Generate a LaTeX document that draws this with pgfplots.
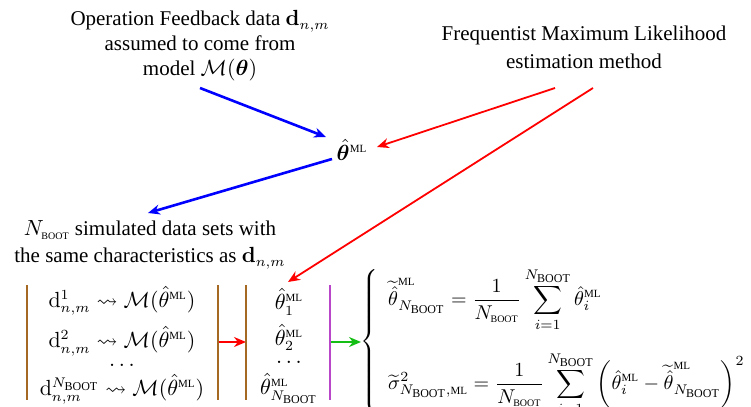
\documentclass[border=0pt]{standalone}
\usepackage{amsmath,amssymb,bm}
\usepackage[no-math]{fontspec}
\setmainfont{Liberation Serif}
\usepackage{pgfplots}
\pgfplotsset{compat=1.18}
\usetikzlibrary{arrows.meta}
\newcommand\ML{\mbox{\fontsize{5.5}{6}\selectfont ML}}
\newcommand\BOOTs{\mbox{\fontsize{5}{5}\selectfont BOOT}}
\newcommand\BOOTm{\mbox{\fontsize{6}{7}\selectfont BOOT}}
\definecolor{brn}{RGB}{165,105,35}
\definecolor{prp}{RGB}{185,70,200}
\definecolor{grn}{RGB}{20,190,20}
\begin{document}
\begin{tikzpicture}
\begin{axis}[
  at={(0,0)}, anchor=south west,
  scale only axis, width=375.5pt, height=203.5pt,
  xmin=0, xmax=751, ymin=0, ymax=407, y dir=reverse,
  hide axis, clip=false,
]
\addplot[draw=none] coordinates {(0,0) (751,407)};
% arrows
\addplot[blue, line width=1.3pt, -{Stealth[length=6pt,width=5pt]}] coordinates {(200,88) (326,137)};
\addplot[red, line width=0.9pt, -{Stealth[length=6pt,width=5pt]}] coordinates {(555,88) (377,147)};
\addplot[blue, line width=1.3pt, -{Stealth[length=6pt,width=5pt]}] coordinates {(332,159) (148,213)};
\addplot[red, line width=0.9pt, -{Stealth[length=6pt,width=5pt]}] coordinates {(593,88) (288,282)};
\addplot[red, line width=1.3pt, -{Stealth[length=6pt,width=5pt]}] coordinates {(218,342) (246,342)};
\addplot[grn, line width=1.3pt, -{Stealth[length=6pt,width=5pt]}] coordinates {(331,342) (361,342)};
% vertical rules
\addplot[brn, line width=1pt] coordinates {(27,285) (27,400)};
\addplot[brn, line width=1pt] coordinates {(218,285) (218,400)};
\addplot[brn, line width=1pt] coordinates {(246,285) (246,400)};
\addplot[prp, line width=1pt] coordinates {(330,285) (330,400)};
% texts
\node[align=center, font=\fontsize{10.5}{12.5}\selectfont] at (axis cs:200,46)
  {Operation Feedback data $\mathbf{d}_{n,m}$\\ assumed to come from\\ model $\mathcal{M}(\bm{\theta})$};
\node[align=center, font=\fontsize{10.5}{14}\selectfont] at (axis cs:584,47)
  {Frequentist Maximum Likelihood\\ estimation method};
\node[font=\fontsize{10.5}{12.5}\selectfont] at (axis cs:352,150) {$\hat{\bm{\theta}}^{\ML}$};
\node[align=center, font=\fontsize{10.5}{13.5}\selectfont] at (axis cs:150,245)
  {$N_{\BOOTs}$ simulated data sets with\\ the same characteristics as $\mathbf{d}_{n,m}$};
\node[font=\fontsize{10.5}{12.5}\selectfont] at (axis cs:122,345)
  {$\begin{array}{c}
   \mathrm{d}^{1}_{n,m}\leadsto\mathcal{M}(\hat\theta^{\ML})\\[6pt]
   \mathrm{d}^{2}_{n,m}\leadsto\mathcal{M}(\hat\theta^{\ML})\\[-3.5pt]
   \ldots\\[0.5pt]
   \mathrm{d}^{N_{\BOOTm}}_{n,m}\leadsto\mathcal{M}(\hat\theta^{\ML})
   \end{array}$};
\node[font=\fontsize{10.5}{12.5}\selectfont] at (axis cs:289,346)
  {$\begin{array}{c}
   \hat\theta^{\ML}_{1}\\[3.5pt]
   \hat\theta^{\ML}_{2}\\[-3.5pt]
   \ldots\\[1.5pt]
   \hat\theta^{\ML}_{N_{\BOOTm}}
   \end{array}$};
\node[anchor=west, inner sep=0pt, font=\fontsize{10}{12}\selectfont] at (axis cs:360,341.5)
  {$\left\{\begin{array}{l}
   \displaystyle \widetilde{\hat\theta}^{\ML}_{N_{\BOOTm}} = \frac{1}{N_{\BOOTs}}\sum_{i=1}^{N_{\BOOTm}}\hat\theta^{\ML}_{i}\\[19.5pt]
   \displaystyle \widetilde{\sigma}^{2}_{N_{\BOOTm},\ML} = \frac{1}{N_{\BOOTs}}\sum_{i=1}^{N_{\BOOTm}}\left(\hat\theta^{\ML}_{i}-\widetilde{\hat\theta}^{\ML}_{N_{\BOOTm}}\right)^{2}
   \end{array}\right.$};
\end{axis}
\pgfresetboundingbox
\path[use as bounding box] (0,0) rectangle (375.5pt,203.5pt);
\end{tikzpicture}
\end{document}
